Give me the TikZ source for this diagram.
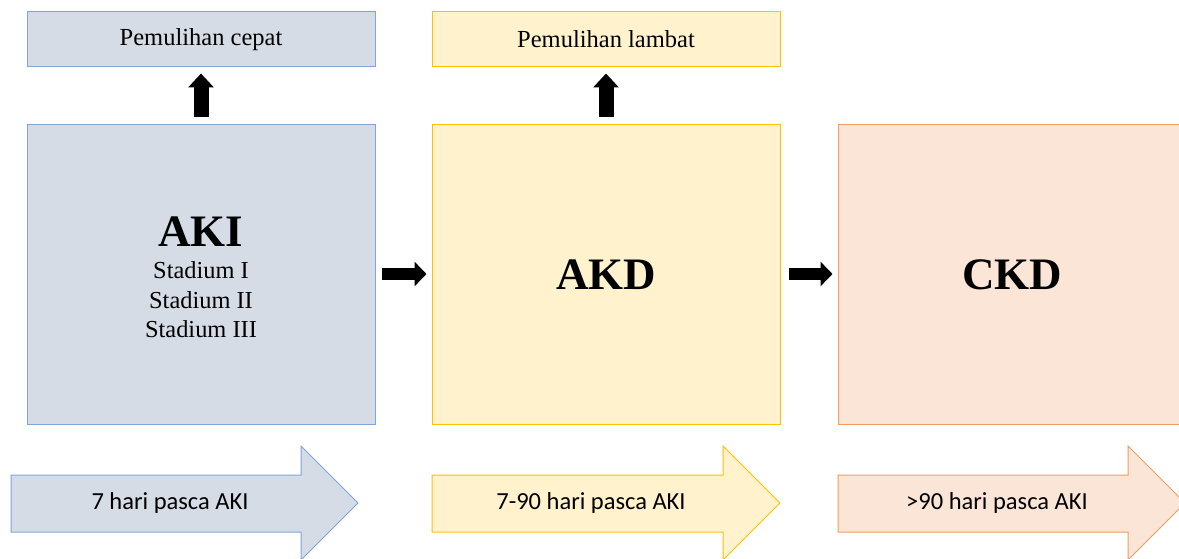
\documentclass[tikz,border=0pt]{standalone}
\usepackage{fontspec}
\setmainfont{Liberation Serif}
\newfontfamily\calib{Carlito}
\usetikzlibrary{arrows.meta}
\definecolor{blueFill}{HTML}{D6DCE5}
\definecolor{blueLine}{HTML}{7EA6DA}
\definecolor{yelFill}{HTML}{FFF2CC}
\definecolor{yelLine}{HTML}{FFC000}
\definecolor{orFill}{HTML}{FBE5D6}
\definecolor{orLine}{HTML}{F19C60}
\tikzset{
  box/.style={draw, line width=1pt, inner sep=0pt, minimum width=348pt},
  topbox/.style={box, minimum height=55pt, font=\fontsize{24.5}{28}\selectfont},
  bigbox/.style={box, minimum height=299pt, align=center},
  blockup/.style={line width=15pt, -{Triangle[width=25pt,length=14pt]}},
  blockright/.style={line width=12pt, -{Triangle[width=24pt,length=12pt]}},
  timeline/.style={line width=1pt, line join=miter},
  timelabel/.style={font=\calib\fontsize{24.5}{28}\selectfont, inner sep=0pt}
}
\newcommand{\bigword}[1]{{\fontsize{45}{50}\selectfont\bfseries #1}}
\begin{document}
\begin{tikzpicture}[x=1pt, y=-1pt]
  \clip (0,0) rectangle (1179,559);
  \fill[white] (0,0) rectangle (1179,559);

  % stage boxes
  \node[bigbox, draw=blueLine, fill=blueFill] (aki) at (201,274.5) {};
  \node[align=center, inner sep=0pt, font=\fontsize{24.4}{29.5}\selectfont] (akitext) at (201,277.5)
    {\bigword{AKI}\\[3pt] Stadium I\\Stadium II\\Stadium III};
  \node[bigbox, draw=yelLine, fill=yelFill] (akd) at (606,274.5) {\bigword{AKD}};
  \node[bigbox, draw=orLine, fill=orFill] (ckd) at (1012,274.5) {\bigword{CKD}};

  % recovery boxes
  \node[topbox, draw=blueLine, fill=blueFill] (cepat) at (201,39.5) {Pemulihan cepat};
  \node[topbox, draw=yelLine, fill=yelFill] (lambat) at (606,39.5) {Pemulihan lambat};

  % connectors
  \draw[blockup, shorten <=7pt, shorten >=6pt] (aki.north) -- (cepat.south);
  \draw[blockup, shorten <=7pt, shorten >=6pt] (akd.north) -- (lambat.south);
  \draw[blockright, shorten <=6pt, shorten >=5pt] (aki.east |- 0,274) -- (akd.west |- 0,274);
  \draw[blockright, shorten <=8pt, shorten >=5pt] (akd.east |- 0,274) -- (ckd.west |- 0,274);

  % time line arrows
  \draw[timeline, draw=blueLine, fill=blueFill]
    (11,475) -- (301,475) -- (301,446) -- (358,503) -- (301,560) -- (301,532) -- (11,532) -- cycle;
  \node[timelabel] (t1) at (170,503) {7 hari pasca AKI};
  \draw[timeline, draw=yelLine, fill=yelFill]
    (432,475) -- (723,475) -- (723,446) -- (780,503) -- (723,560) -- (723,532) -- (432,532) -- cycle;
  \node[timelabel] (t2) at (591,503) {7-90 hari pasca AKI};
  \draw[timeline, draw=orLine, fill=orFill]
    (838,475) -- (1128,475) -- (1128,446) -- (1185,503) -- (1128,560) -- (1128,532) -- (838,532) -- cycle;
  \node[timelabel] (t3) at (997,503) {>90 hari pasca AKI};
\end{tikzpicture}
\end{document}
